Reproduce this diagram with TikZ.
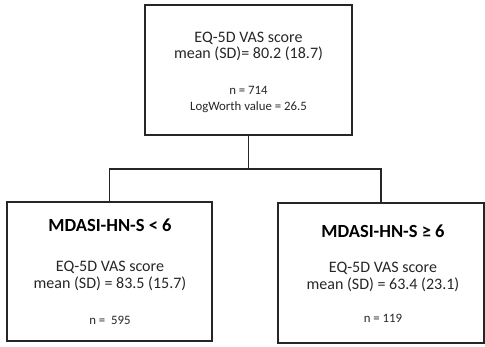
\documentclass[tikz,border=0pt]{standalone}
\usepackage{fontspec}
\setmainfont{Carlito}
\tikzset{
  box/.style={draw=black!85, line width=1.5pt, inner sep=0pt},
  conn/.style={draw=black!85, line width=1.5pt},
  big/.style={inner sep=0pt, anchor=base, font=\fontsize{16}{19}\selectfont, text=black!85},
  small/.style={inner sep=0pt, anchor=base, font=\fontsize{12.8}{15}\selectfont, text=black!85},
  title/.style={inner sep=0pt, anchor=base, font=\fontsize{18.5}{22}\selectfont\bfseries, text=black},
}
\begin{document}
\begin{tikzpicture}[x=1pt,y=-1pt]
\useasboundingbox (0,0) rectangle (485,346);
% boxes
\node[box, minimum width=207pt, minimum height=130pt] (top) at (248.5,70) {};
\node[box, minimum width=205pt, minimum height=139pt] (left) at (109.5,271.5) {};
\node[box, minimum width=206pt, minimum height=140pt] (right) at (381,273) {};
% top texts
\node[big] (t1) at (248.5,42) {EQ-5D VAS score};
\node[big] (t2) at (248.5,58) {mean (SD)= 80.2 (18.7)};
\node[small] (t3) at (248.5,94) {n = 714};
\node[small] (t4) at (248.5,110) {LogWorth value = 26.5};
% left texts
\node[title] (l0) at (110,231) {MDASI-HN-S < 6};
\node[big] (l1) at (110,271) {EQ-5D VAS score};
\node[big] (l2) at (110,288) {mean (SD) = 83.5 (15.7)};
\node[small] (l3) at (110,324) {n =\ \ 595};
% right texts
\node[title] (r0) at (383,237) {MDASI-HN-S ≥ 6};
\node[big] (r1) at (383,272) {EQ-5D VAS score};
\node[big] (r2) at (383,289) {mean (SD) = 63.4 (23.1)};
\node[small] (r3) at (383,322) {n = 119};
% connectors
\coordinate (bar) at (248.5,169);
\draw[conn] (top.south) -- (bar);
\draw[conn] (left.north) |- (bar) -| (right.north);
\end{tikzpicture}
\end{document}
